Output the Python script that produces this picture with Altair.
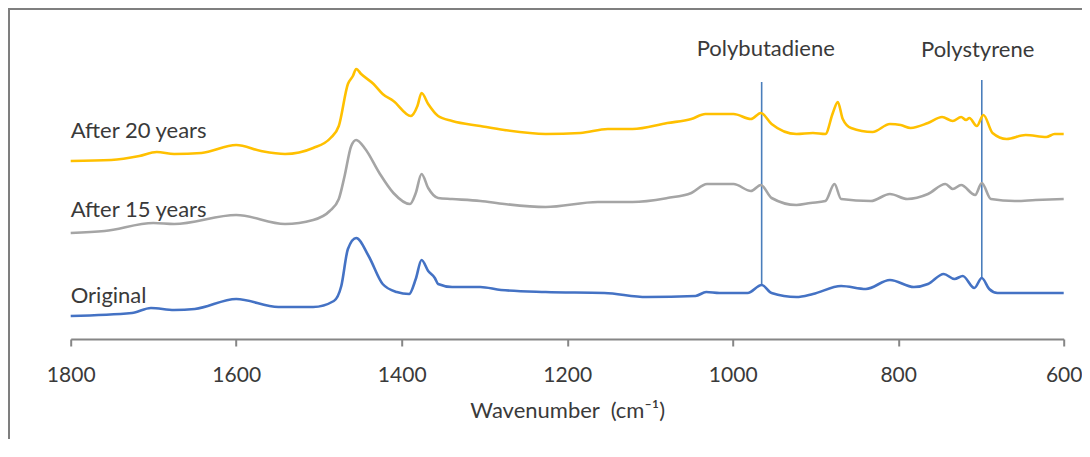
import altair as alt
import pandas as pd

# ---- data (wavenumber, offset intensity, arbitrary units) ----
orig_w = [1800, 1726, 1703, 1675, 1650, 1600, 1549, 1507, 1482, 1473, 1465, 1455, 1440, 1423, 1406, 1391,
          1383, 1376, 1368, 1360, 1356, 1339, 1305, 1280, 1226, 1155, 1104, 1045, 1032, 1016, 982, 965,
          953, 923, 903, 869, 839, 810, 781, 764, 745, 732, 722, 708, 699, 690, 680, 638, 600]
orig_v = [0.23, 0.26, 0.31, 0.29, 0.30, 0.40, 0.32, 0.32, 0.38, 0.53, 0.90, 1.01, 0.83, 0.55, 0.47, 0.45,
          0.60, 0.79, 0.68, 0.61, 0.55, 0.52, 0.52, 0.49, 0.47, 0.46, 0.42, 0.43, 0.47, 0.46, 0.46, 0.54,
          0.46, 0.42, 0.45, 0.53, 0.50, 0.59, 0.52, 0.55, 0.65, 0.60, 0.63, 0.51, 0.61, 0.50, 0.46, 0.46, 0.46]

y15_w = [1800, 1759, 1700, 1675, 1600, 1541, 1507, 1487, 1476, 1469, 1461, 1455, 1444, 1427, 1410, 1390,
         1383, 1376, 1368, 1356, 1339, 1305, 1276, 1226, 1163, 1121, 1079, 1050, 1031, 999, 978, 966,
         953, 923, 906, 888, 877, 869, 833, 810, 789, 764, 743, 734, 724, 707, 699, 688, 659, 634, 600]
y15_v = [1.06, 1.08, 1.16, 1.15, 1.24, 1.15, 1.19, 1.28, 1.40, 1.63, 1.93, 1.99, 1.90, 1.66, 1.46, 1.35,
         1.46, 1.65, 1.51, 1.41, 1.40, 1.38, 1.35, 1.32, 1.37, 1.37, 1.41, 1.46, 1.55, 1.55, 1.48, 1.54,
         1.41, 1.34, 1.36, 1.38, 1.55, 1.40, 1.38, 1.45, 1.40, 1.45, 1.55, 1.50, 1.54, 1.44, 1.56, 1.40,
         1.38, 1.39, 1.40]

y20_w = [1800, 1751, 1717, 1696, 1675, 1642, 1600, 1570, 1541, 1507, 1486, 1476, 1465, 1459, 1455, 1449,
         1434, 1423, 1410, 1389, 1381, 1376, 1368, 1356, 1339, 1305, 1276, 1226, 1184, 1151, 1121, 1079,
         1050, 1033, 999, 978, 966, 953, 923, 903, 888, 879, 873, 867, 857, 831, 810, 797, 785, 764, 747,
         734, 724, 718, 714, 705, 697, 686, 669, 646, 621, 611, 600]
y20_v = [1.78, 1.79, 1.83, 1.87, 1.85, 1.86, 1.94, 1.88, 1.85, 1.91, 2.01, 2.13, 2.55, 2.63, 2.70, 2.65,
         2.55, 2.45, 2.38, 2.23, 2.33, 2.46, 2.35, 2.23, 2.18, 2.13, 2.09, 2.05, 2.06, 2.10, 2.10, 2.16,
         2.20, 2.25, 2.25, 2.20, 2.26, 2.15, 2.05, 2.06, 2.05, 2.26, 2.37, 2.20, 2.11, 2.07, 2.15, 2.14,
         2.11, 2.16, 2.22, 2.18, 2.22, 2.19, 2.21, 2.13, 2.24, 2.06, 2.00, 2.04, 2.02, 2.05, 2.05]

series_names = ["Original", "After 15 years", "After 20 years"]
series_colors = ["#4472C4", "#A5A5A5", "#FFC000"]

label_text = ["After 20 years", "After 15 years", "Original"]
label_w = [1800, 1800, 1800]
label_v = [2.01, 1.22, 0.36]

marker_names = ["Polybutadiene", "Polystyrene"]
marker_w = [965, 699]
marker_top = [2.57, 2.59]
marker_bottom = [0.53, 0.61]
marker_label_w = [960, 704]
marker_label_v = [2.83, 2.82]

x_ticks = [1800, 1600, 1400, 1200, 1000, 800, 600]

# ---- tables ----
rows = []
for name, ws, vs in [("Original", orig_w, orig_v), ("After 15 years", y15_w, y15_v), ("After 20 years", y20_w, y20_v)]:
    for w, v in zip(ws, vs):
        rows.append({"series": name, "w": w, "v": v})
spec_df = pd.DataFrame(rows)
lab_df = pd.DataFrame({"text": label_text, "w": label_w, "v": label_v})
mk_df = pd.DataFrame({"name": marker_names, "w": marker_w, "top": marker_top, "bottom": marker_bottom,
                      "lw": marker_label_w, "lv": marker_label_v})

FONT = "Lato"
PAD_L, PAD_R, PAD_B = 62.7, 18.3, 100
W, H = 993, 331          # plot area: exactly the 1800..600 axis span

xscale = alt.Scale(domain=[min(x_ticks), max(x_ticks)], reverse=True, nice=False, zero=False)
yscale = alt.Scale(domain=[0, 3.31], nice=False, zero=False)

xaxis = alt.Axis(values=x_ticks, format="d", grid=False, domain=True,
                 domainColor="#868686", domainWidth=2,
                 tickColor="#868686", tickWidth=2, tickSize=7,
                 labelFont=FONT, labelFontSize=21, labelColor="#3a3a3a", labelBaseline="alphabetic",
                 labelPadding=35, labelFlush=False, labelOverlap=False,
                 title="Wavenumber\u00a0 (cm\u207b\u00b9)", titleFont=FONT, titleFontSize=22,
                 titleFontWeight="normal", titleColor="#3a3a3a", titleBaseline="alphabetic", titleY=78)

lines = alt.Chart(spec_df).mark_line(strokeWidth=2.6, interpolate="monotone").encode(
    x=alt.X("w:Q", scale=xscale, axis=xaxis),
    y=alt.Y("v:Q", scale=yscale, axis=None),
    color=alt.Color("series:N", scale=alt.Scale(domain=series_names, range=series_colors), legend=None),
    order=alt.Order("w:Q"),
)

markers = alt.Chart(mk_df).mark_rule(color="#4a7ebb", strokeWidth=1.6).encode(
    x=alt.X("w:Q", scale=xscale, axis=xaxis),
    y=alt.Y("top:Q", scale=yscale, axis=None),
    y2="bottom:Q",
)

marker_labels = alt.Chart(mk_df).mark_text(font=FONT, fontSize=22, color="#3a3a3a", align="center",
                                           baseline="alphabetic").encode(
    x=alt.X("lw:Q", scale=xscale, axis=xaxis),
    y=alt.Y("lv:Q", scale=yscale, axis=None),
    text="name:N",
)

series_labels = alt.Chart(lab_df).mark_text(font=FONT, fontSize=22, color="#3a3a3a", align="left",
                                            baseline="alphabetic").encode(
    x=alt.X("w:Q", scale=xscale, axis=xaxis),
    y=alt.Y("v:Q", scale=yscale, axis=None),
    text="text:N",
)

frame_top = alt.Chart(lab_df).mark_rule(color="#7f7f7f", strokeWidth=2).encode(
    x=alt.value(-PAD_L), x2=alt.value(W + PAD_R), y=alt.value(1))
frame_left = alt.Chart(lab_df).mark_rule(color="#7f7f7f", strokeWidth=2).encode(
    x=alt.value(-PAD_L + 1), y=alt.value(0), y2=alt.value(H + PAD_B))

chart = alt.layer(frame_top, frame_left, markers, lines, series_labels, marker_labels).properties(
    width=W, height=H,
    background="white",
    autosize=alt.AutoSizeParams(type="none"),
    padding={"left": PAD_L, "top": 0, "right": PAD_R, "bottom": PAD_B},
).configure_view(stroke=None, strokeWidth=0)

chart.save("out.html", embed_options={"renderer": "svg", "actions": False})
